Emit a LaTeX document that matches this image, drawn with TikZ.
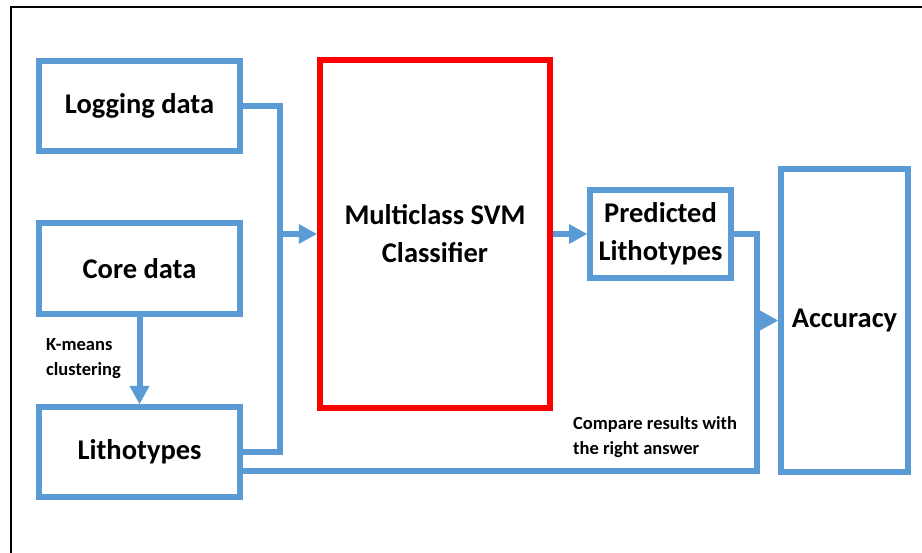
\documentclass[tikz,border=0pt]{standalone}
\usepackage{fontspec}
\setmainfont{Carlito}
\usetikzlibrary{arrows.meta}
\definecolor{flowblue}{HTML}{5B9BD5}
\definecolor{svmred}{HTML}{FF0000}
\tikzset{
  box/.style={draw=flowblue, line width=6pt, fill=white, align=center,
    inner sep=0pt, font=\fontsize{28.5}{38}\selectfont\bfseries},
  svmbox/.style={box, draw=svmred, line width=6.5pt},
  link/.style={draw=flowblue, line width=6pt},
  flow/.style={link, -{Triangle[length=18pt, width=20pt, line width=0pt]}},
  note/.style={align=left, inner sep=0pt, font=\fontsize{18.5}{25}\selectfont\bfseries}
}
\begin{document}
\begin{tikzpicture}[x=1pt, y=-1pt]
  \useasboundingbox (0,0) rectangle (922,553);
  % page frame
  \draw[line width=2pt] (11,553) -- (11,7) -- (922,7);

  % blocks
  \node[box, minimum width=201pt, minimum height=90pt] (log)  at (139.5,106) {Logging data};
  \node[box, minimum width=201pt, minimum height=91pt] (core) at (139.5,268.5) {Core data};
  \node[box, minimum width=201pt, minimum height=90pt] (lith) at (139.5,452) {Lithotypes};
  \node[svmbox, minimum width=230pt, minimum height=348pt] (svm) at (435,234) {Multiclass SVM\\Classifier};
  \node[box, minimum width=141pt, minimum height=88pt] (pred) at (660.5,234) {Predicted\\Lithotypes};
  \node[box, minimum width=127pt, minimum height=303pt] (acc) at (844.5,320.5) {Accuracy};

  % junctions
  \coordinate (jn)  at (280,234);
  \coordinate (cmp) at (757,471);

  % inputs to the classifier
  \draw[link] (log.east) -| (jn) |- (lith.east);
  \draw[flow] (jn) -- (svm.west);
  \draw[flow] (core.south) -- (lith.north);
  \draw[flow] (svm.east) -- (pred.west);

  % comparison with the reference lithotypes
  \draw[link] (pred.east) -| (cmp) -- (lith.east |- cmp);
  \draw[flow] (acc.west -| cmp) -- (acc.west);

  % labels (anchored on the baseline of the last line)
  \node[note, anchor=base west] (kml) at (46,376) {K-means\\clustering};
  \node[note, anchor=base west] (cml) at (573,455) {Compare results with\\the right answer};
\end{tikzpicture}
\end{document}
